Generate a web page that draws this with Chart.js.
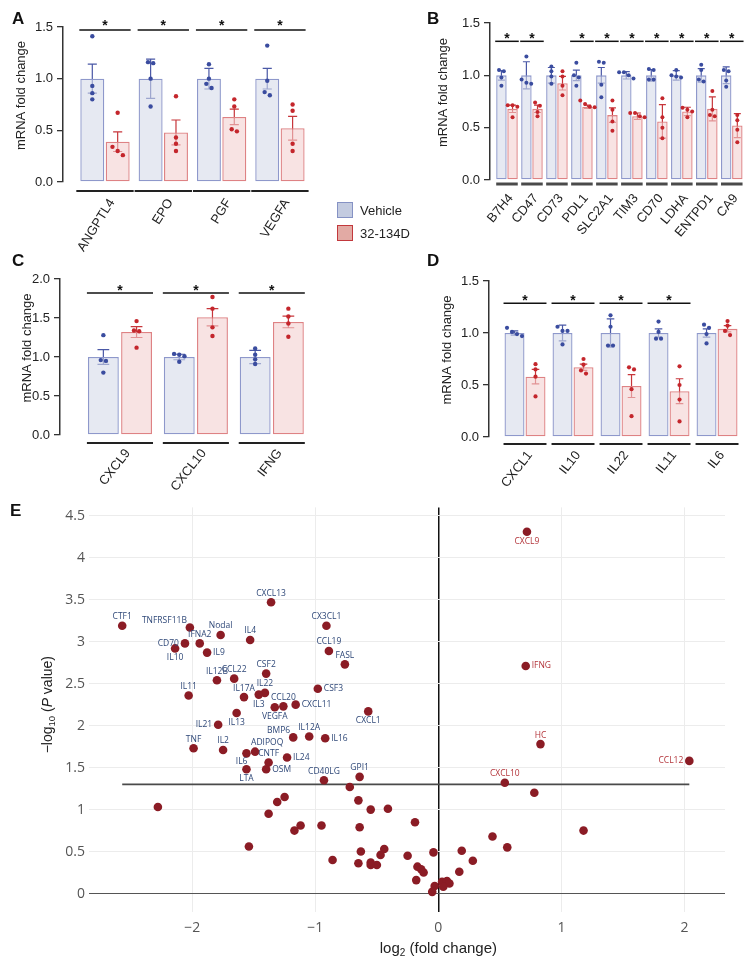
<!DOCTYPE html>
<html>
<head>
<meta charset="utf-8">
<script src="https://cdn.jsdelivr.net/npm/chart.js@4.4.1/dist/chart.umd.min.js"></script>
<style>
  body { margin: 0; width: 755px; height: 968px; position: relative; overflow: hidden; background: #fff;
         font-family: 'Liberation Sans', Arial, sans-serif; }
  .box { position: absolute; }
  .tag { position: absolute; font-weight: bold; font-size: 17px; line-height: 17px; color: #111; }
  .leg { position: absolute; left: 337px; height: 17px; font-size: 13px; line-height: 17px; color: #222; }
  .leg i { position: absolute; left: 0; top: 0; width: 14px; height: 14px; border: 1.5px solid; }
  .leg span { position: absolute; left: 23px; top: 0; white-space: nowrap; }
</style>
</head>
<body>

<div class="box" style="left:0;top:0"><canvas id="cA" width="330" height="255"></canvas></div>
<div class="box" style="left:400px;top:0"><canvas id="cB" width="355" height="255"></canvas></div>
<div class="box" style="left:0;top:260px"><canvas id="cC" width="400" height="235"></canvas></div>
<div class="box" style="left:400px;top:260px"><canvas id="cD" width="355" height="235"></canvas></div>
<div class="box" style="left:0;top:495px"><canvas id="cE" width="755" height="473"></canvas></div>

<div class="tag" style="left:12px;top:10px">A</div>
<div class="tag" style="left:427px;top:10px">B</div>
<div class="tag" style="left:12px;top:252px">C</div>
<div class="tag" style="left:427px;top:252px">D</div>
<div class="tag" style="left:10px;top:502px">E</div>

<div class="leg" style="top:202px"><i style="background:#c3cbe0;border-color:#8592c4"></i><span>Vehicle</span></div>
<div class="leg" style="top:225px"><i style="background:#e2aaa4;border-color:#c2383c"></i><span>32-134D</span></div>

<script>
// ============================================================
// Painéis A–D: expressão (mRNA fold change), Vehicle x 32-134D
// Painel E: volcano plot
// ============================================================

Chart.defaults.font.family = "'Liberation Sans', Arial, sans-serif";
Chart.defaults.color = '#222';

// ── A: genes de hipóxia / angiogênese ─────────────────────────
const A_GENES    = ['ANGPTL4', 'EPO', 'PGF', 'VEGFA'];
const A_VEH_MEAN = [1.00, 1.00, 1.00, 1.00];
const A_VEH_SEM  = [0.14, 0.19, 0.10, 0.10];
const A_VEH_PTS  = [[1.41, 0.93, 0.86, 0.80], [1.16, 1.15, 1.00, 0.73], [1.14, 1.00, 0.95, 0.91], [1.32, 0.98, 0.87, 0.84]];
const A_TRT_MEAN = [0.39, 0.48, 0.63, 0.52];
const A_TRT_SEM  = [0.095, 0.12, 0.075, 0.115];
const A_TRT_PTS  = [[0.67, 0.34, 0.30, 0.26], [0.83, 0.43, 0.37, 0.30], [0.80, 0.73, 0.51, 0.49], [0.75, 0.69, 0.37, 0.30]];
const A_SIG      = [true, true, true, true];

// ── B: checkpoints / metabolismo ──────────────────────────────
const B_GENES    = ['B7H4', 'CD47', 'CD73', 'PDL1', 'SLC2A1', 'TIM3', 'CD70', 'LDHA', 'ENTPD1', 'CA9'];
const B_VEH_MEAN = [1, 1, 1, 1, 1, 1, 1, 1, 1, 1];
const B_VEH_SEM  = [0.045, 0.13, 0.075, 0.05, 0.075, 0.035, 0.055, 0.045, 0.065, 0.08];
const B_VEH_PTS  = [[1.05, 1.04, 0.98, 0.90], [1.18, 0.96, 0.93, 0.92], [1.085, 1.04, 0.99, 0.92], [1.12, 1.00, 0.98, 0.90],
                    [1.13, 1.12, 0.91, 0.79], [1.03, 1.03, 1.00, 0.97], [1.06, 1.05, 0.96, 0.96], [1.05, 1.00, 0.99, 0.98],
                    [1.10, 1.05, 0.96, 0.94], [1.05, 1.04, 0.95, 0.89]];
const B_TRT_MEAN = [0.68, 0.68, 0.925, 0.70, 0.62, 0.61, 0.56, 0.655, 0.68, 0.52];
const B_TRT_SEM  = [0.035, 0.035, 0.065, 0.015, 0.07, 0.03, 0.16, 0.04, 0.115, 0.115];
const B_TRT_PTS  = [[0.715, 0.715, 0.70, 0.60], [0.74, 0.71, 0.65, 0.61], [1.04, 0.99, 0.90, 0.81], [0.76, 0.725, 0.70, 0.695],
                    [0.76, 0.67, 0.56, 0.47], [0.64, 0.64, 0.61, 0.60], [0.78, 0.60, 0.50, 0.40], [0.69, 0.67, 0.655, 0.60],
                    [0.85, 0.67, 0.62, 0.61], [0.62, 0.57, 0.48, 0.36]];
const B_SIG      = [true, true, false, true, true, true, true, true, true, true];

// ── C: quimiocinas induzidas ──────────────────────────────────
const C_GENES    = ['CXCL9', 'CXCL10', 'IFNG'];
const C_VEH_MEAN = [1, 1, 1];
const C_VEH_SEM  = [0.095, 0.035, 0.085];
const C_VEH_PTS  = [[1.28, 0.96, 0.95, 0.80], [1.04, 1.03, 1.01, 0.94], [1.11, 1.03, 0.97, 0.91]];
const C_TRT_MEAN = [1.32, 1.51, 1.45];
const C_TRT_SEM  = [0.07, 0.11, 0.075];
const C_TRT_PTS  = [[1.46, 1.34, 1.33, 1.12], [1.77, 1.62, 1.38, 1.27], [1.62, 1.52, 1.43, 1.26]];
const C_SIG      = [true, true, true];

// ── D: citocinas reprimidas ───────────────────────────────────
const D_GENES    = ['CXCL1', 'IL10', 'IL22', 'IL11', 'IL6'];
const D_VEH_MEAN = [1, 1, 1, 1, 1];
const D_VEH_SEM  = [0.02, 0.075, 0.135, 0.04, 0.04];
const D_VEH_PTS  = [[1.05, 1.01, 0.99, 0.97], [1.06, 1.02, 1.02, 0.89], [1.17, 1.06, 0.88, 0.88], [1.11, 1.01, 0.945, 0.945], [1.08, 1.05, 0.99, 0.90]];
const D_TRT_MEAN = [0.58, 0.67, 0.49, 0.44, 1.04];
const D_TRT_SEM  = [0.07, 0.03, 0.11, 0.12, 0.03];
const D_TRT_PTS  = [[0.70, 0.65, 0.58, 0.39], [0.75, 0.695, 0.64, 0.61], [0.67, 0.65, 0.46, 0.20], [0.68, 0.50, 0.36, 0.15], [1.115, 1.07, 1.02, 0.98]];
const D_SIG      = [true, true, true, true, false];

// ── E: volcano (genes rotulados) ──────────────────────────────
const E_NAMES = ['CTF1', 'TNFRSF11B', 'Nodal', 'CD70', 'IFNA2', 'IL10', 'IL9', 'IL4', 'CXCL13', 'CX3CL1',
                 'CCL19', 'FASL', 'CSF2', 'IL12B', 'CCL22', 'IL11', 'IL17A', 'IL22', 'IL3', 'CSF3',
                 'CCL20', 'VEGFA', 'CXCL11', 'CXCL1', 'IL13', 'IL21', 'BMP6', 'IL12A', 'IL16', 'TNF',
                 'IL2', 'ADIPOQ', 'IL6', 'CNTF', 'IL24', 'LTA', 'OSM', 'CD40LG', 'GPI1',
                 'CXCL9', 'IFNG', 'HC', 'CCL12', 'CXCL10'];
const E_FC    = [-2.57, -2.02, -1.77, -2.06, -1.94, -2.14, -1.88, -1.53, -1.36, -0.91,
                 -0.89, -0.76, -1.40, -1.80, -1.66, -2.03, -1.58, -1.41, -1.46, -0.98,
                 -1.26, -1.33, -1.16, -0.57, -1.64, -1.79, -1.18, -1.05, -0.92, -1.99,
                 -1.75, -1.49, -1.56, -1.38, -1.23, -1.56, -1.40, -0.93, -0.64,
                 0.72, 0.71, 0.83, 2.04, 0.54];
const E_P     = [3.19, 3.17, 3.08, 2.98, 2.98, 2.92, 2.87, 3.02, 3.47, 3.19,
                 2.89, 2.73, 2.62, 2.54, 2.56, 2.36, 2.34, 2.39, 2.37, 2.44,
                 2.23, 2.22, 2.25, 2.17, 2.15, 2.01, 1.86, 1.87, 1.85, 1.73,
                 1.71, 1.69, 1.67, 1.56, 1.62, 1.48, 1.48, 1.35, 1.39,
                 4.31, 2.71, 1.78, 1.58, 1.32];
// lado do rótulo: t=acima, b=abaixo, l=esquerda, r=direita
const E_SIDE  = { TNFRSF11B: 'tl', CD70: 'l', IL10: 'b', IL9: 'r', IL3: 'b', CSF3: 'r', VEGFA: 'b', CXCL11: 'r',
                  CXCL1: 'b', IL13: 'b', IL21: 'l', BMP6: 'tl', IL16: 'r', ADIPOQ: 'tr', IL6: 'bl', IL24: 'r',
                  LTA: 'b', OSM: 'r', CXCL9: 'b', IFNG: 'r', CCL12: 'l' };

// ── E: genes não rotulados ────────────────────────────────────
const E_BG_FC = [-2.28, -0.72, 0.78, -1.25, -1.31, -1.38, -0.65, -0.55, -0.41, -0.19,
                 -1.12, -1.17, -0.95, -0.64, 0.44, -1.54, 0.56, -0.63, -0.44, -0.47,
                 -0.25, -0.04, 0.19, -0.86, 0.28, -0.65, -0.55, -0.55, -0.50, -0.17,
                 -0.14, -0.12, 0.17, -0.18, -0.03, -0.05, 0.03, 0.07, 0.09, 0.04, 1.18];
const E_BG_P  = [1.03, 1.27, 1.20, 1.15, 1.09, 0.95, 1.11, 1.00, 1.01, 0.85,
                 0.81, 0.75, 0.81, 0.79, 0.68, 0.56, 0.55, 0.50, 0.53, 0.46,
                 0.45, 0.49, 0.51, 0.40, 0.39, 0.36, 0.37, 0.34, 0.34, 0.32,
                 0.29, 0.25, 0.26, 0.16, 0.09, 0.02, 0.14, 0.15, 0.12, 0.08, 0.75];
const E_X_TICKS = [-2, -1, 0, 1, 2];
const E_Y_TICKS = [0, 0.5, 1, 1.5, 2, 2.5, 3, 3.5, 4, 4.5];
const P_CUTOFF  = 1.3;   // -log10(0.05)

// ── Cores ─────────────────────────────────────────────────────
const VEH = { fill: 'rgba(214,218,234,0.6)', border: '#8e98cb', err: '#4a58a6', dot: '#3a4c9f' };
const TRT = { fill: 'rgba(243,208,209,0.6)', border: '#de8284', err: '#c7363b', dot: '#c4262c' };
const E_DOT = '#8b1c25';

// pontos próximos em y se espalham lado a lado
function swarmOffsets(ys, r) {
  const idx = ys.map((_, i) => i).sort((a, b) => ys[a] - ys[b]);
  const off = ys.map(() => 0);
  let group = [idx[0]];
  const flush = () => group.forEach((k, j) => { off[k] = (j - (group.length - 1) / 2) * (2 * r + 0.8); });
  for (let n = 1; n < idx.length; n++) {
    if (ys[idx[n]] - ys[idx[n - 1]] < 2 * r) group.push(idx[n]);
    else { flush(); group = [idx[n]]; }
  }
  flush();
  return off;
}

// barras de erro, pontos individuais, traços de significância, título do eixo y
function decorPlugin(d, s) {
  const groups = [
    { mean: d.vehMean, sem: d.vehSem, pts: d.vehPts, col: VEH },
    { mean: d.trtMean, sem: d.trtSem, pts: d.trtPts, col: TRT },
  ];
  return {
    id: 'decor',
    beforeDatasetsDraw(chart) {
      const { ctx, scales: { y } } = chart;
      ctx.save();
      ctx.lineWidth = 1.2;
      groups.forEach((g, di) => {
        chart.getDatasetMeta(di).data.forEach((bar, i) => {
          const top = y.getPixelForValue(g.mean[i] + g.sem[i]);
          const bot = y.getPixelForValue(g.mean[i] - g.sem[i]);
          const cap = Math.max(3.5, bar.width * 0.19);
          ctx.strokeStyle = g.col.err;
          ctx.beginPath();
          ctx.moveTo(bar.x, top); ctx.lineTo(bar.x, bot);
          ctx.moveTo(bar.x - cap, top); ctx.lineTo(bar.x + cap, top);
          ctx.moveTo(bar.x - cap, bot); ctx.lineTo(bar.x + cap, bot);
          ctx.stroke();
        });
      });
      ctx.restore();
    },
    afterDatasetsDraw(chart) {
      const { ctx, chartArea, scales: { y } } = chart;
      const m0 = chart.getDatasetMeta(0).data, m1 = chart.getDatasetMeta(1).data;
      ctx.save();

      groups.forEach((g, di) => {
        chart.getDatasetMeta(di).data.forEach((bar, i) => {
          const ys = g.pts[i].map(v => y.getPixelForValue(v));
          const off = swarmOffsets(ys, s.dotR);
          ctx.fillStyle = g.col.dot;
          ys.forEach((py, k) => {
            ctx.beginPath();
            ctx.arc(bar.x + off[k], py, s.dotR, 0, Math.PI * 2);
            ctx.fill();
          });
        });
      });

      d.genes.forEach((_, i) => {
        const x0 = m0[i].x - m0[i].width / 2 - 1;
        const x1 = m1[i].x + m1[i].width / 2 + 1;
        // traço sob o grupo
        ctx.strokeStyle = s.underColor; ctx.lineWidth = s.underW;
        const uy = chartArea.bottom + s.underGap;
        ctx.beginPath(); ctx.moveTo(x0 - s.underExt, uy); ctx.lineTo(x1 + s.underExt, uy); ctx.stroke();
        if (!d.sig[i]) return;
        const ly = y.getPixelForValue(s.sigAt);
        ctx.strokeStyle = '#111'; ctx.lineWidth = 1.5;
        ctx.beginPath(); ctx.moveTo(x0, ly); ctx.lineTo(x1, ly); ctx.stroke();
        ctx.fillStyle = '#111';
        ctx.font = "bold 14px 'Liberation Sans', Arial, sans-serif";
        ctx.textAlign = 'center'; ctx.textBaseline = 'alphabetic';
        ctx.fillText('*', (x0 + x1) / 2, ly + 2 - s.starUp);
      });

      // título do eixo y, um pouco acima do centro (como no original)
      ctx.translate(s.titleX, (chartArea.top + chartArea.bottom) / 2 - 9);
      ctx.rotate(-Math.PI / 2);
      ctx.fillStyle = '#222';
      ctx.font = "13px 'Liberation Sans', Arial, sans-serif";
      ctx.textAlign = 'center'; ctx.textBaseline = 'middle';
      ctx.fillText('mRNA fold change', 0, 0);
      ctx.restore();
    },
  };
}

function makeBarPanel(id, d, s) {
  const toXY = arr => arr.map((v, i) => ({ x: i, y: v }));
  const common = { borderWidth: 1.3, borderSkipped: false, categoryPercentage: s.catPct, barPercentage: s.barPct };
  return new Chart(document.getElementById(id), {
    type: 'bar',
    data: {
      datasets: [
        { label: 'Vehicle', data: toXY(d.vehMean), backgroundColor: VEH.fill, borderColor: VEH.border, ...common },
        { label: '32-134D', data: toXY(d.trtMean), backgroundColor: TRT.fill, borderColor: TRT.border, ...common },
      ],
    },
    options: {
      responsive: false, animation: false, devicePixelRatio: 1,
      layout: { padding: { top: s.padTop, right: s.padRight, left: 0, bottom: 0 } },
      plugins: { legend: { display: false }, tooltip: { enabled: false } },
      scales: {
        x: {
          type: 'linear', min: s.xMin, max: s.xMax, offset: false,
          afterBuildTicks: sc => { sc.ticks = d.genes.map((_, i) => ({ value: i })); },
          afterFit: sc => { sc.height = s.xHeight; },
          grid: { display: false, offset: false }, border: { display: false },
          ticks: {
            autoSkip: false, minRotation: s.rot, maxRotation: s.rot, padding: s.tickPad, labelOffset: s.labelShift,
            font: { size: 13 }, color: '#222',
            callback: v => d.genes[v] ?? '',
          },
        },
        y: {
          min: 0, max: s.yMax,
          afterFit: sc => { sc.width = s.yWidth; },
          grid: { drawOnChartArea: false, drawTicks: true, tickLength: 6, color: '#333', lineWidth: 1.3 },
          border: { display: true, color: '#333', width: 1.5 },
          ticks: { stepSize: 0.5, padding: 4, font: { size: 13 }, color: '#222', callback: v => v.toFixed(1) },
        },
      },
    },
    plugins: [decorPlugin(d, s)],
  });
}

makeBarPanel('cA',
  { genes: A_GENES, vehMean: A_VEH_MEAN, vehSem: A_VEH_SEM, vehPts: A_VEH_PTS, trtMean: A_TRT_MEAN, trtSem: A_TRT_SEM, trtPts: A_TRT_PTS, sig: A_SIG },
  { yMax: 1.5, xMin: -0.72, xMax: 3.55, yWidth: 63, xHeight: 73, padTop: 27, padRight: 18, catPct: 0.87, barPct: 0.945,
    sigAt: 1.47, starUp: 2.5, underGap: 9, underW: 2, underExt: 3, underColor: '#222',
    rot: 58, tickPad: 6, labelShift: 7, titleX: 21, dotR: 2.2 });

makeBarPanel('cB',
  { genes: B_GENES, vehMean: B_VEH_MEAN, vehSem: B_VEH_SEM, vehPts: B_VEH_PTS, trtMean: B_TRT_MEAN, trtSem: B_TRT_SEM, trtPts: B_TRT_PTS, sig: B_SIG },
  { yMax: 1.5, xMin: -0.68, xMax: 9.53, yWidth: 90, xHeight: 75, padTop: 23, padRight: 10, catPct: 0.89, barPct: 0.94,
    sigAt: 1.325, starUp: 0, underGap: 4, underW: 3, underExt: -1, underColor: '#4a4a4a',
    rot: 50, tickPad: 3, labelShift: 4, titleX: 43, dotR: 2 });

makeBarPanel('cC',
  { genes: C_GENES, vehMean: C_VEH_MEAN, vehSem: C_VEH_SEM, vehPts: C_VEH_PTS, trtMean: C_TRT_MEAN, trtSem: C_TRT_SEM, trtPts: C_TRT_PTS, sig: C_SIG },
  { yMax: 2.0, xMin: -0.79, xMax: 2.53, yWidth: 60, xHeight: 60, padTop: 19, padRight: 88, catPct: 0.875, barPct: 0.93,
    sigAt: 1.82, starUp: 0.5, underGap: 8, underW: 2, underExt: 0, underColor: '#222',
    rot: 52, tickPad: 3, labelShift: 8, titleX: 27, dotR: 2.2 });

makeBarPanel('cD',
  { genes: D_GENES, vehMean: D_VEH_MEAN, vehSem: D_VEH_SEM, vehPts: D_VEH_PTS, trtMean: D_TRT_MEAN, trtSem: D_TRT_SEM, trtPts: D_TRT_PTS, sig: D_SIG },
  { yMax: 1.5, xMin: -0.75, xMax: 4.52, yWidth: 89, xHeight: 58, padTop: 21, padRight: 13, catPct: 0.875, barPct: 0.95,
    sigAt: 1.285, starUp: 0, underGap: 7, underW: 2, underExt: 0, underColor: '#222',
    rot: 52, tickPad: 3, labelShift: 5, titleX: 47, dotR: 2.1 });

// ── Volcano ───────────────────────────────────────────────────
function drawRich(ctx, parts, cx, cy) {
  const fonts = parts.map(p => `${p.it ? 'italic ' : ''}${p.size}px 'Liberation Sans', Arial, sans-serif`);
  const widths = parts.map((p, i) => { ctx.font = fonts[i]; return ctx.measureText(p.t).width; });
  let x = cx - widths.reduce((a, b) => a + b, 0) / 2;
  ctx.textAlign = 'left'; ctx.textBaseline = 'alphabetic';
  parts.forEach((p, i) => { ctx.font = fonts[i]; ctx.fillText(p.t, x, cy + 5 + (p.dy || 0)); x += widths[i]; });
}

const geneLabels = {
  id: 'geneLabels',
  afterDatasetsDraw(chart) {
    const ctx = chart.ctx;
    ctx.save();
    ctx.font = "8.5px 'Open Sans', sans-serif";
    chart.getDatasetMeta(0).data.forEach((pt, i) => {
      const name = E_NAMES[i];
      let x = pt.x, y = pt.y, align = 'center';
      switch (E_SIDE[name] || 't') {
        case 't':  y -= 9; break;
        case 'b':  y += 9.5; break;
        case 'l':  x -= 6; align = 'right'; break;
        case 'r':  x += 6; align = 'left'; break;
        case 'tl': x -= 3; y -= 7; align = 'right'; break;
        case 'tr': x -= 4; y -= 9; align = 'left'; break;
        case 'bl': x += 1; y += 8; align = 'right'; break;
      }
      ctx.fillStyle = E_FC[i] > 0 ? '#b3343a' : '#2f4878';
      ctx.textAlign = align; ctx.textBaseline = 'middle';
      ctx.fillText(name, x, y);
    });
    ctx.restore();
  },
};

const eTitles = {
  id: 'eTitles',
  afterDraw(chart) {
    const { ctx, scales: { x, y } } = chart;
    ctx.save();
    ctx.fillStyle = '#222';
    drawRich(ctx, [{ t: 'log', size: 15 }, { t: '2', size: 10, dy: 3 }, { t: ' (fold change)', size: 15 }],
      x.getPixelForValue(0), chart.height - 20);
    ctx.translate(47, y.getPixelForValue(2.25));
    ctx.rotate(-Math.PI / 2);
    drawRich(ctx, [{ t: '\u2212log', size: 14 }, { t: '10', size: 9.5, dy: 3 }, { t: ' (', size: 14 },
                   { t: 'P', size: 14, it: true }, { t: ' value)', size: 14 }], 0, 0);
    ctx.restore();
  },
};

const allFc = E_FC.concat(E_BG_FC);

new Chart(document.getElementById('cE'), {
  type: 'scatter',
  data: {
    datasets: [
      { data: E_FC.map((v, i) => ({ x: v, y: E_P[i] })), pointRadius: 4.3, backgroundColor: E_DOT, borderWidth: 0, order: 0 },
      { data: E_BG_FC.map((v, i) => ({ x: v, y: E_BG_P[i] })), pointRadius: 4.3, backgroundColor: E_DOT, borderWidth: 0, order: 0 },
      { type: 'line', showLine: true, data: [{ x: Math.min(...allFc), y: P_CUTOFF }, { x: Math.max(...allFc), y: P_CUTOFF }],
        borderColor: '#4a4a4a', borderWidth: 1.6, pointRadius: 0, fill: false, order: 2 },
    ],
  },
  options: {
    responsive: false, animation: false, devicePixelRatio: 1,
    layout: { padding: { top: 7, right: 30, left: 0, bottom: 0 } },
    plugins: { legend: { display: false }, tooltip: { enabled: false } },
    scales: {
      x: {
        type: 'linear', min: -2.84, max: 2.33,
        afterBuildTicks: sc => { sc.ticks = E_X_TICKS.map(v => ({ value: v })); },
        afterFit: sc => { sc.height = 56; },
        grid: { color: c => c.tick && c.tick.value === 0 ? '#111' : '#ececec', lineWidth: c => c.tick && c.tick.value === 0 ? 1.5 : 1, drawTicks: false },
        border: { display: false },
        ticks: { padding: 8, font: { family: "'Open Sans', sans-serif", size: 14 }, color: '#555',
                 callback: v => v < 0 ? '\u2212' + (-v) : String(v) },
      },
      y: {
        min: -0.22, max: 4.6,
        afterBuildTicks: sc => { sc.ticks = E_Y_TICKS.map(v => ({ value: v })); },
        afterFit: sc => { sc.width = 89; },
        grid: { color: c => c.tick && c.tick.value === 0 ? '#555' : '#ececec', drawTicks: false },
        border: { display: false },
        ticks: { padding: 4, font: { family: "'Open Sans', sans-serif", size: 14 }, color: '#555', callback: v => String(v) },
      },
    },
  },
  plugins: [geneLabels, eTitles],
});
</script>
</body>
</html>
